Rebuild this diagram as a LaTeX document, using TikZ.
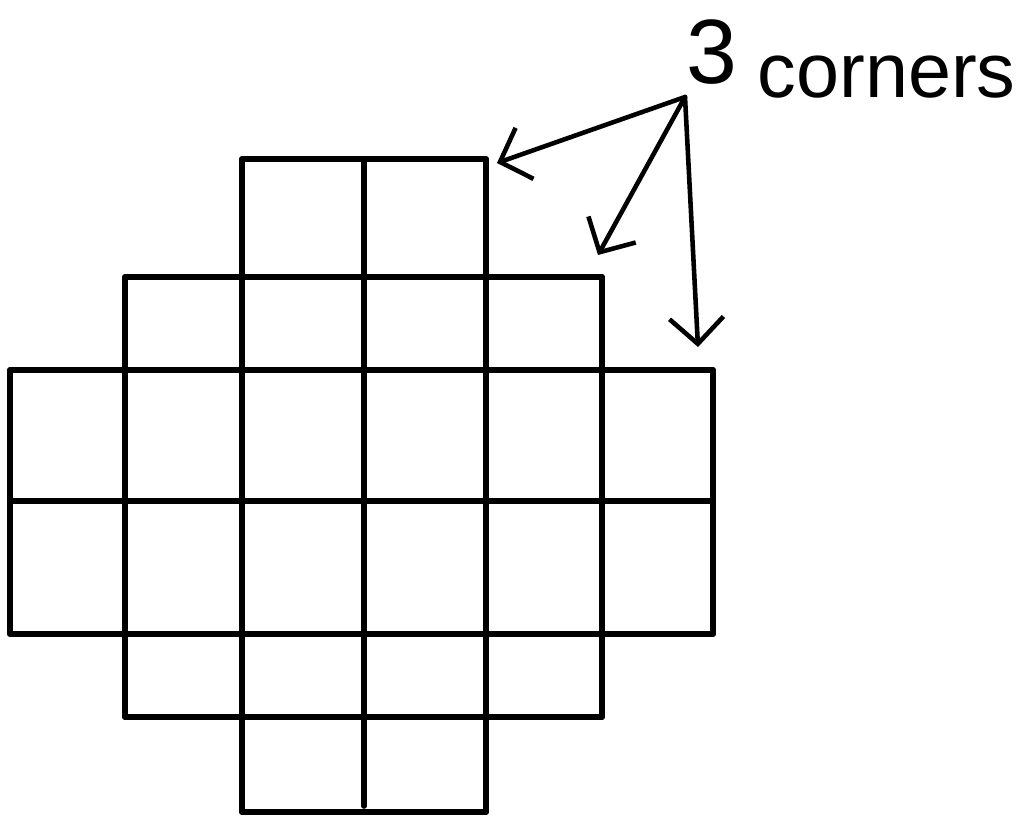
\documentclass[tikz,border=0pt]{standalone}
\usepackage{fontspec}
\setmainfont{Liberation Sans}
\usetikzlibrary{arrows.meta}

\begin{document}
\begin{tikzpicture}[
	grid/.style={line width=1.6pt, line cap=round, line join=round},
	pointer/.style={line width=1.3pt, line cap=round, -{Straight Barb[length=2.6mm, width=5.4mm, line width=1.3pt]}},
	label/.style={inner sep=0pt, font=\fontsize{22}{26}\selectfont}]
	\useasboundingbox (0,0) rectangle (10.25,-8.16);
	% horizontal lines of the cells
	\foreach \y/\a/\b in {-1.59/2.42/4.86, -2.77/1.25/6.02, -3.70/0.10/7.13, -5.01/0.10/7.13, -6.34/0.10/7.13, -7.17/1.25/6.02, -8.12/2.42/4.86}
		\draw[grid] (\a,\y) -- (\b,\y);
	% vertical lines of the cells
	\foreach \x/\a/\b in {0.10/-3.70/-6.34, 1.25/-2.77/-7.17, 2.42/-1.59/-8.12, 3.64/-1.59/-8.06, 4.86/-1.59/-8.12, 6.02/-2.77/-7.17, 7.13/-3.70/-6.34}
		\draw[grid] (\x,\a) -- (\x,\b);
	\node[label, anchor=base, font=\fontsize{26}{30}\selectfont] (three) at (7.12,-0.83) {3};
	\node[label, anchor=base west] (corners) at (7.57,-0.97) {corners};
	\coordinate (src) at (6.85,-0.97);
	\coordinate (tipA) at (4.97,-1.63);
	\coordinate (tipB) at (5.98,-2.55);
	\coordinate (tipC) at (6.98,-3.47);
	\draw[pointer] (src) -- (tipA);
	\draw[pointer] (src) -- (tipB);
	\draw[pointer] (src) -- (tipC);
\end{tikzpicture}
\end{document}
